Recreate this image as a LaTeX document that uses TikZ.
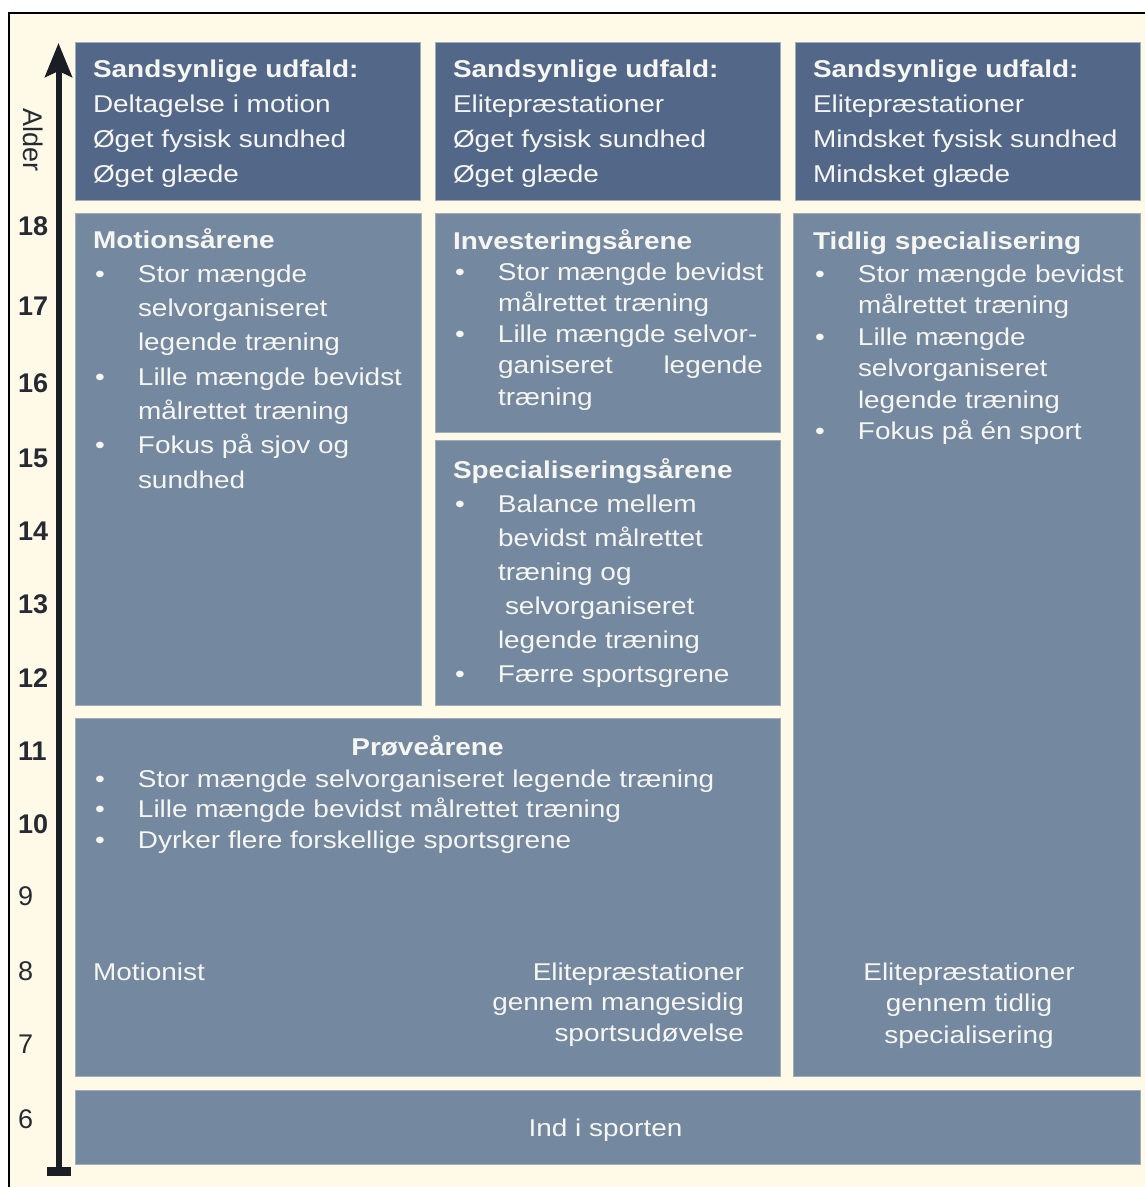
\documentclass[tikz,border=0pt]{standalone}
\usepackage{fontspec}
\setmainfont{Liberation Sans}[FakeStretch=1.15]
\newfontfamily\agefont{Liberation Sans}
\usetikzlibrary{arrows.meta}

\definecolor{cream}{HTML}{FFFAE8}
\definecolor{outcome}{HTML}{536889}
\definecolor{phase}{HTML}{7488A0}
\definecolor{edgegray}{HTML}{A3ADBA}
\definecolor{ink}{HTML}{F6F6F0}
\definecolor{agecol}{HTML}{262A33}

% bullet column and continuation indent for list lines
\newcommand\itembul{\makebox[45pt][l]{\hspace{2pt}•}}
\newcommand\itemcont{\hspace*{45pt}}

\begin{document}
\begin{tikzpicture}[x=1pt,y=-1pt,
  box/.style={draw=edgegray, line width=0.8pt, inner sep=0pt, outer sep=0pt, anchor=north west},
  outbox/.style={box, fill=outcome},
  phasebox/.style={box, fill=phase},
  txt/.style={inner sep=0pt, outer sep=0pt, anchor=base west, text=ink},
  age/.style={inner sep=0pt, anchor=base west, text=agecol, font=\agefont\fontsize{27}{27}\selectfont},
]
\clip (0,0) rectangle (1145,1187);
\fill[white] (0,0) rectangle (1145,1187);
\draw[line width=2pt, fill=cream] (9,13) rectangle (1175,1215);

% outcome boxes
\node[outbox, minimum width=345pt, minimum height=158pt] (out1) at (75,42) {};
\node[outbox, minimum width=345pt, minimum height=158pt] (out2) at (435,42) {};
\node[outbox, minimum width=345pt, minimum height=158pt] (out3) at (795,42) {};

% phase boxes
\node[phasebox, minimum width=346pt, minimum height=492pt] (mot) at (75,213) {};
\node[phasebox, minimum width=345pt, minimum height=219pt] (inv) at (435,213) {};
\node[phasebox, minimum width=345pt, minimum height=265pt] (spe) at (435,440) {};
\node[phasebox, minimum width=347pt, minimum height=863pt] (tid) at (793,213) {};
\node[phasebox, minimum width=705pt, minimum height=358pt] (pro) at (75,718) {};
\node[phasebox, minimum width=1065pt, minimum height=74pt] (ind) at (75,1090) {};

% outcome texts
\node[txt, font=\fontsize{24.3}{35}\selectfont] (out1t) at (93,77)
  {\parbox[t]{330pt}{\raggedright\textbf{Sandsynlige udfald:}\\Deltagelse i motion\\Øget fysisk sundhed\\Øget glæde}};
\node[txt, font=\fontsize{24.3}{35}\selectfont] (out2t) at (453,77)
  {\parbox[t]{330pt}{\raggedright\textbf{Sandsynlige udfald:}\\Elitepræstationer\\Øget fysisk sundhed\\Øget glæde}};
\node[txt, font=\fontsize{24.3}{35}\selectfont] (out3t) at (813,77)
  {\parbox[t]{330pt}{\raggedright\textbf{Sandsynlige udfald:}\\Elitepræstationer\\Mindsket fysisk sundhed\\Mindsket glæde}};

% phase texts
\node[txt, font=\fontsize{24.3}{34.3}\selectfont] (mott) at (93,248)
  {\parbox[t]{330pt}{\raggedright\textbf{Motionsårene}\\
   \itembul Stor mængde\\\itemcont selvorganiseret\\\itemcont legende træning\\
   \itembul Lille mængde bevidst\\\itemcont målrettet træning\\
   \itembul Fokus på sjov og\\\itemcont sundhed}};

\node[txt, font=\fontsize{24.3}{31.2}\selectfont] (invt) at (453,249)
  {\parbox[t]{330pt}{\raggedright\textbf{Investeringsårene}\\
   \itembul Stor mængde bevidst\\\itemcont målrettet træning\\
   \itembul Lille mængde selvor-\\\itemcont\hbox to 265pt{ganiseret\hfill legende}\\
   \itemcont træning}};

\node[txt, font=\fontsize{24.3}{34}\selectfont] (spet) at (453,478)
  {\parbox[t]{330pt}{\raggedright\textbf{Specialiseringsårene}\\
   \itembul Balance mellem\\\itemcont bevidst målrettet\\\itemcont træning og\\
   \hspace*{52pt}selvorganiseret\\\itemcont legende træning\\
   \itembul Færre sportsgrene}};

\node[txt, font=\fontsize{24.3}{31.5}\selectfont] (tidt) at (813,249)
  {\parbox[t]{330pt}{\raggedright\textbf{Tidlig specialisering}\\[1.5pt]
   \itembul Stor mængde bevidst\\\itemcont målrettet træning\\
   \itembul Lille mængde\\\itemcont selvorganiseret\\\itemcont legende træning\\
   \itembul Fokus på én sport}};

\node[txt, anchor=base, font=\fontsize{24.3}{31}\selectfont] (prot) at (427.5,755) {\textbf{Prøveårene}};
\node[txt, font=\fontsize{24.3}{30.5}\selectfont] (prol) at (93,787)
  {\parbox[t]{680pt}{\raggedright
   \itembul Stor mængde selvorganiseret legende træning\\
   \itembul Lille mængde bevidst målrettet træning\\
   \itembul Dyrker flere forskellige sportsgrene}};

\node[txt, font=\fontsize{24.3}{31}\selectfont] (motionist) at (93,980) {Motionist};
\node[txt, anchor=base east, font=\fontsize{24.3}{30.5}\selectfont] (elite1) at (744,980)
  {\parbox[t]{320pt}{\raggedleft Elitepræstationer\\gennem mangesidig\\sportsudøvelse}};
\node[txt, anchor=base, font=\fontsize{24.3}{31.5}\selectfont] (elite2) at (969,980)
  {\parbox[t]{320pt}{\centering Elitepræstationer\\gennem tidlig\\specialisering}};

\node[txt, anchor=base, font=\fontsize{24.3}{31}\selectfont] (indt) at (605.5,1136) {Ind i sporten};

% age axis
\coordinate (axbot) at (58.5,1176);
\coordinate (axtop) at (58.5,43);
\draw[line width=6pt, agecol!70!black,
  {Bar[width=24pt,line width=9pt]}-{Stealth[length=34pt,width=27pt,inset=6pt]}]
  (axbot) -- (axtop);

\node[age, anchor=center, rotate=-90] (alder) at (33,140) {Alder};

\foreach \a/\yy in {18/235,17/315,16/392,15/467,14/540,13/613,12/687,11/760,10/833}
  \node[age] (age\a) at (18,\yy) {\textbf{\a}};
\foreach \a/\yy in {9/905,8/980,7/1053,6/1128}
  \node[age] (age\a) at (18,\yy) {\a};
\end{tikzpicture}
\end{document}
